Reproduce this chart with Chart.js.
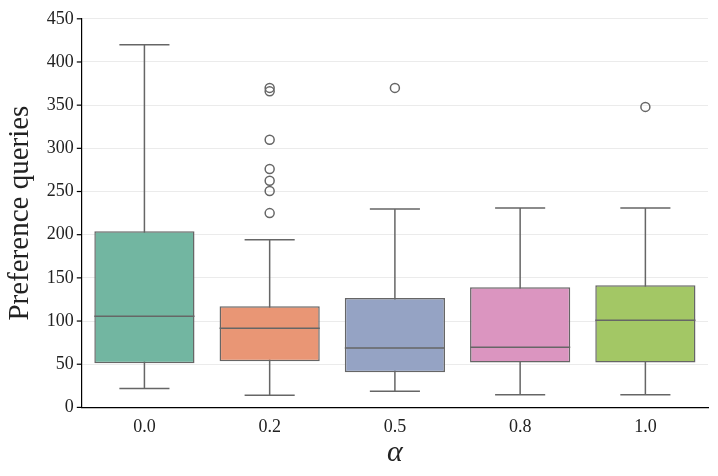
<!DOCTYPE html>
<html><head><meta charset="utf-8">
<script src="https://cdn.jsdelivr.net/npm/chart.js@4"></script>
<style>html,body{margin:0;padding:0;background:#fff}#w{width:718px;height:476px}</style>
</head><body><div id="w"><canvas id="c" width="718" height="476"></canvas></div>
<script>
const categories = ['0.0','0.2','0.5','0.8','1.0'];
const whiskerLow = [22, 14, 18.6, 14.7, 14.7];
const q1 = [51, 53.4, 40.6, 52, 52];
const median = [105.6, 91.6, 68.8, 69.6, 101];
const q3 = [204, 117, 126.8, 139, 141.5];
const whiskerHigh = [420, 194, 229.7, 231, 231];
const outlierCat = ['0.2','0.2','0.2','0.2','0.2','0.2','0.2','0.5','1.0'];
const outlierVal = [370, 366, 310, 276, 262.5, 250.5, 225, 370, 348];
const boxColors = ['#72b6a1','#e99675','#95a3c4','#db95c0','#a3c765'];
const yTicks = [0,50,100,150,200,250,300,350,400,450];
const lineColor = '#666666';
const FONT = "'Liberation Serif', serif";

const boxPlugin = {
  id: 'boxparts',
  beforeDatasetsDraw(chart) {
    const x = chart.scales.x, y = chart.scales.y, ctx = chart.ctx;
    const meta = chart.getDatasetMeta(0);
    ctx.save();
    ctx.strokeStyle = lineColor; ctx.lineWidth = 1.5;
    categories.forEach((c, i) => {
      const cx = x.getPixelForValue(i);
      const half = meta.data[i].width / 4;
      ctx.beginPath();
      ctx.moveTo(cx, y.getPixelForValue(whiskerLow[i]));
      ctx.lineTo(cx, y.getPixelForValue(whiskerHigh[i]));
      [whiskerLow[i], whiskerHigh[i]].forEach(v => {
        const py = y.getPixelForValue(v);
        ctx.moveTo(cx - half, py); ctx.lineTo(cx + half, py);
      });
      ctx.stroke();
    });
    ctx.restore();
  },
  afterDatasetsDraw(chart) {
    const x = chart.scales.x, y = chart.scales.y, ctx = chart.ctx;
    const meta = chart.getDatasetMeta(0);
    ctx.save();
    ctx.strokeStyle = lineColor; ctx.lineWidth = 1.5;
    categories.forEach((c, i) => {
      const cx = x.getPixelForValue(i);
      const half = meta.data[i].width / 2;
      const py = y.getPixelForValue(median[i]);
      ctx.beginPath(); ctx.moveTo(cx - half, py); ctx.lineTo(cx + half, py); ctx.stroke();
    });
    ctx.restore();
  }
};

new Chart(document.getElementById('c'), {
  data: {
    labels: categories,
    datasets: [
      {
        type: 'bar',
        data: categories.map((c, i) => [q1[i], q3[i]]),
        backgroundColor: boxColors,
        borderColor: lineColor,
        borderWidth: 1.5,
        borderSkipped: false,
        categoryPercentage: 0.8,
        barPercentage: 1.0,
        order: 2
      },
      {
        type: 'line',
        data: outlierCat.map((c, i) => ({x: c, y: outlierVal[i]})),
        showLine: false,
        pointRadius: 4.5,
        pointBorderWidth: 1.5,
        pointBorderColor: lineColor,
        pointBackgroundColor: 'rgba(0,0,0,0)',
        order: 1
      }
    ]
  },
  options: {
    responsive: false,
    animation: false,
    layout: {padding: {top: 4, right: 10, left: 3, bottom: 5}},
    plugins: {legend: {display: false}, tooltip: {enabled: false}},
    scales: {
      x: {
        type: 'category',
        offset: true,
        grid: {display: false, drawTicks: true, tickLength: 5, tickColor: '#000'},
        border: {display: true, color: '#000', width: 1.2},
        ticks: {color: '#222', font: {family: FONT, size: 18}, padding: 4},
        title: {display: true, text: 'α', color: '#222', font: {family: FONT, size: 30, style: 'italic'}, padding: {top: -7, bottom: 0}}
      },
      y: {
        min: 0, max: 450,
        afterBuildTicks(axis) { axis.ticks = yTicks.map(v => ({value: v})); },
        grid: {color: '#ebebeb', lineWidth: 1, drawTicks: false, tickLength: 5},
        border: {display: true, color: '#000', width: 1.2},
        ticks: {color: '#222', font: {family: FONT, size: 18}, padding: 8},
        title: {display: true, text: 'Preference queries', color: '#222', font: {family: FONT, size: 29}, padding: {top: 0, bottom: 1}}
      }
    }
  },
  plugins: [boxPlugin, {
    id: 'yticks',
    afterDraw(chart) {
      const y = chart.scales.y, ctx = chart.ctx, left = chart.chartArea.left;
      ctx.save(); ctx.strokeStyle = '#000'; ctx.lineWidth = 1.2;
      yTicks.forEach(v => { const py = y.getPixelForValue(v); ctx.beginPath(); ctx.moveTo(left - 5, py); ctx.lineTo(left, py); ctx.stroke(); });
      ctx.restore();
    }
  }]
});
</script></body></html>
